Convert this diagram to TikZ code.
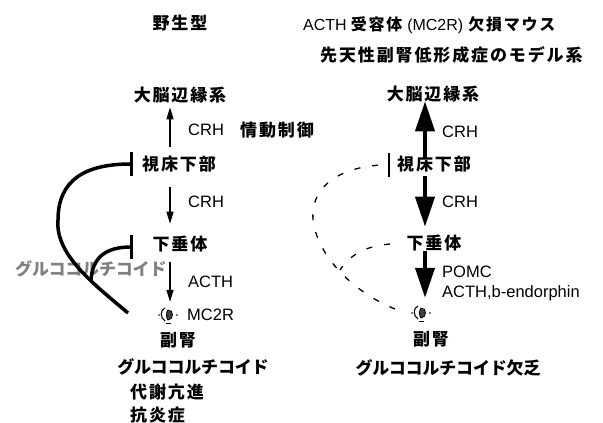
\documentclass[tikz,border=0pt]{standalone}
\usepackage{fontspec}
\setmainfont{Liberation Sans}
\newfontfamily\lat{Liberation Sans}
\newfontfamily\jp{Noto Sans CJK JP}[LetterSpace=11.0]
\newfontfamily\jpk{Noto Sans CJK JP}[LetterSpace=-1.0]
\usetikzlibrary{arrows.meta}
\begin{document}
\begin{tikzpicture}[x=1bp,y=-1bp,
  jl/.style={font=\jp\bfseries\fontsize{17bp}{19bp}\selectfont, inner sep=0pt},
  kl/.style={font=\jpk\bfseries\fontsize{17bp}{19bp}\selectfont, inner sep=0pt},
  ll/.style={font=\lat\fontsize{16.5bp}{18bp}\selectfont, inner sep=0pt},
  thinarrow/.style={line width=1.5bp, -{Triangle[length=12bp,width=7bp]}},
  fatarrow/.style={line width=4bp, -{Triangle[length=30bp,width=19bp]}},
  inhib/.style={line width=3.5bp, -{Bar[width=24bp,line width=3bp]}},
  fbdash/.style={line width=1.3bp, dash pattern=on 6bp off 12bp},
  iconbox/.style={minimum width=12bp, minimum height=14bp, inner sep=0pt}
]
\useasboundingbox (0,0) rectangle (603,422);

% titles
\node[jl] (wt) at (180,23) {野生型};
\node[ll, font=\lat\fontsize{16bp}{18bp}\selectfont, anchor=west] (ko) at (303,25)
  {ACTH\hspace{4bp}{\jp\bfseries 受容体}\hspace{5bp}(MC2R)\hspace{5bp}{\jp\bfseries 欠損マウス}};
\node[jl, anchor=west] (model) at (320,55) {先天性副腎低形成症のモデル系};

% ---------- left column ----------
\node[jl] (limL) at (180,95) {大脳辺縁系};
\node[jl] (hypL) at (179,164) {視床下部};
\node[jl] (pitL) at (180,244) {下垂体};
\node[iconbox] (iconL) at (168,315) {};
\node[jl] (adrL) at (178,340) {副腎};
\node[kl] (gcL) at (193,367) {グルココルチコイド};
\node[jl, anchor=west] (metab) at (130,392) {代謝亢進};
\node[jl, anchor=west] (anti) at (130,415) {抗炎症};

\node[ll, anchor=west] (crhL1) at (188,130) {CRH};
\node[jl, anchor=west] (emo) at (240,130) {情動制御};
\node[ll, anchor=west] (crhL2) at (188,202) {CRH};
\node[ll, anchor=west] (acthL) at (188,282) {ACTH};
\node[ll, anchor=west] (mc2r) at (187,315) {MC2R};
\node[kl, anchor=west, text=black!50] (gcfb) at (15,269) {グルココルチコイド};

\coordinate (axL) at (170,0);
\draw[thinarrow, shorten <=9bp, shorten >=4bp] (hypL.north -| axL) -- (limL.south -| axL);
\draw[thinarrow, shorten <=15bp, shorten >=12bp] (hypL.south -| axL) -- (pitL.north -| axL);
\draw[thinarrow, shorten <=10bp, shorten >=6bp] (pitL.south -| axL) -- (iconL.north -| axL);

\coordinate (barHL) at (133,164);
\coordinate (barPL) at (133,247);
\coordinate (fbL) at (128,313);
\coordinate (mergeL) at (91,281);
\draw[inhib] (fbL) .. controls (95,285) and (55,255) .. (58,220)
  .. controls (58,180) and (85,164) .. (barHL);
\draw[inhib] (mergeL) .. controls (92,258) and (105,247) .. (barPL);

% ---------- right column ----------
\node[jl] (limR) at (433,94) {大脳辺縁系};
\node[jl] (hypR) at (434,164) {視床下部};
\node[jl] (pitR) at (434,243) {下垂体};
\node[iconbox] (iconR) at (421,313) {};
\node[jl] (adrR) at (431,339) {副腎};
\node[kl] (gcdef) at (448,368) {グルココルチコイド欠乏};

\node[ll, anchor=west] (crhR1) at (442,132) {CRH};
\node[ll, anchor=west] (crhR2) at (442,202) {CRH};
\node[ll, anchor=west] (pomc) at (442,272) {POMC};
\node[ll, anchor=west] (betae) at (442,293) {ACTH,b-endorphin};

\coordinate (axR) at (425,0);
\draw[fatarrow, shorten <=-2bp, shorten >=-1bp] (hypR.north -| axR) -- (limR.south -| axR);
\draw[fatarrow, shorten <=4bp, shorten >=8bp] (hypR.south -| axR) -- (pitR.north -| axR);
\draw[fatarrow, shorten <=0bp, shorten >=8bp] (pitR.south -| axR) -- (iconR.north -| axR);

\coordinate (barHR) at (389,165);
\coordinate (dashHR) at (381,165);
\coordinate (dashPR) at (390,244);
\coordinate (fbR) at (395,309);
\coordinate (mergeR) at (340,270);
\draw[line width=2bp] (barHR) ++(0,-12) -- ++(0,24);
\draw[fbdash] (fbR) .. controls (360,295) and (325,265) .. (315,230)
  .. controls (305,195) and (330,168) .. (dashHR);
\draw[fbdash] (dashPR) .. controls (365,246) and (350,255) .. (mergeR);

% adrenal icons
\foreach \ic in {iconL,iconR}{
\begin{scope}[shift={(\ic.center)}]
  \draw[line width=1.1bp] (-3,-7) .. controls (-8,-5) and (-8,3) .. (-3,6);
  \filldraw[line width=0.8bp, fill=black!75] (0,-5) .. controls (6,-6) and (6,5) .. (0,5)
     .. controls (-2,3) and (-2,-3) .. cycle;
  \draw[line width=0.8bp] (-2,8) -- (3,8);
  \fill (-9,0) circle (0.8);
  \fill (9,0) circle (0.8);
\end{scope}}
\end{tikzpicture}
\end{document}
